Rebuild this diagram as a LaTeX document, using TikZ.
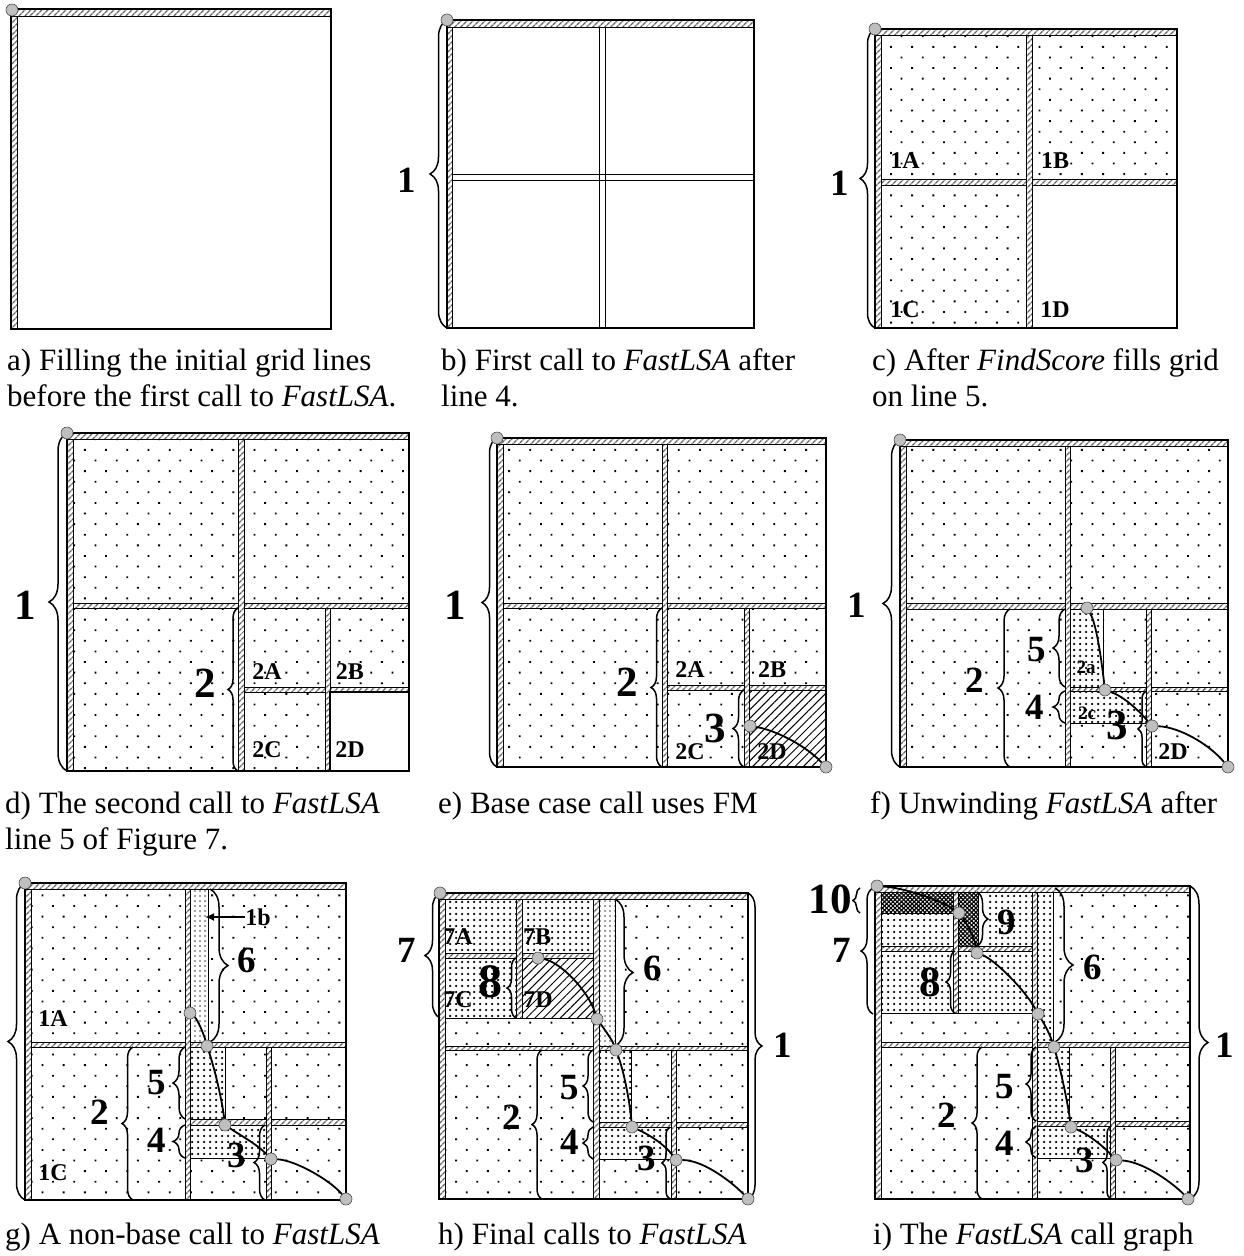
\documentclass[tikz,border=0pt]{standalone}
\usepackage{fontspec}
\setmainfont{Liberation Serif}[BoldFont={Liberation Serif Bold}, ItalicFont={Liberation Serif Italic}]
\usetikzlibrary{patterns.meta,decorations.pathreplacing,arrows.meta}

\begin{document}
\begin{tikzpicture}[x=1pt, y=-1pt,
  box/.style={line width=1.7pt},
  sep/.style={line width=0.8pt},
  gl/.style={preaction={fill=white}, pattern={Lines[angle=45,distance=4pt,line width=1.6pt]},
             pattern color=black!60, draw=black, line width=0.7pt},
  sp/.style={pattern={Dots[distance=15pt,angle=45,radius=1.3pt]}},
  dn/.style={pattern={Dots[distance=6pt,radius=1.25pt]}},
  dg/.style={pattern={Dots[distance=5pt,radius=1.2pt]}, pattern color=black!50},
  hx/.style={pattern={Lines[angle=45,distance=6pt,line width=1pt]}},
  cx/.style={pattern={Hatch[angle=45,distance=3pt,line width=1.2pt]}},
  brc/.style={decorate, decoration={brace, amplitude=#1}, line width=1.5pt},
  brc/.default=10pt,
  pt/.style={circle, fill=gray!50, draw=gray!60!black, line width=0.6pt, inner sep=0pt, minimum size=12pt},
  cur/.style={line width=1.8pt},
  num/.style={font=\bfseries\fontsize{37}{37}\selectfont, inner sep=0pt},
  big/.style={font=\bfseries\fontsize{43}{43}\selectfont, inner sep=0pt},
  lab/.style={font=\bfseries\fontsize{24}{24}\selectfont, inner sep=0pt},
  sml/.style={font=\bfseries\fontsize{19}{19}\selectfont, inner sep=0pt},
  captxt/.style={font=\fontsize{31}{36}\selectfont, align=left, anchor=base west, inner sep=0pt}]
\useasboundingbox (0,0) rectangle (1243,1256);

% a) initial grid lines
\draw[gl] (11,9) rectangle (331,16);
\draw[gl] (11,16) rectangle (17,329);
\draw[box] (11,9) rectangle (331,329);
\node[pt] (a0) at (12,10) {};
\node[captxt] (capa) at (7,406) {a) Filling the initial grid lines\\before the first call to \textit{FastLSA}.};

% b) first call
\draw[gl] (447,20) rectangle (754,27);
\draw[gl] (447,27) rectangle (452,328);
\draw[sep] (599,27) -- (599,328) (605,27) -- (605,328) (452,174) -- (754,174) (452,180) -- (754,180);
\draw[box] (447,20) rectangle (754,328);
\draw[brc=17pt] (447,328) -- (447,20);
\node[num] (b1) at (407,180) {1};
\node[pt] (b0) at (447,20) {};
\node[captxt] (capb) at (441,406) {b) First call to \textit{FastLSA} after\\line 4.};

% c) FindScore fills grid
\path[sp] (881,35) rectangle (1026,179) (1032,35) rectangle (1177,179) (881,185) rectangle (1026,328);
\draw[gl] (875,29) rectangle (1177,35);
\draw[gl] (875,35) rectangle (881,328);
\draw[gl] (881,179) rectangle (1177,185);
\draw[gl] (1026,35) rectangle (1032,328);
\draw[box] (875,29) rectangle (1177,328);
\node[lab] (c1a) at (905,161) {1A};
\node[lab] (c1b) at (1055,161) {1B};
\node[lab] (c1c) at (905,310) {1C};
\node[lab] (c1d) at (1055,310) {1D};
\draw[brc=15pt] (875,328) -- (875,29);
\node[num] (c1) at (840,183) {1};
\node[pt] (c0) at (875,29) {};
\node[captxt] (capc) at (872,406) {c) After \textit{FindScore} fills grid\\on line 5.};

% d) second call
\path[sp] (73,439) rectangle (238,603) (244,439) rectangle (409,603) (73,608) rectangle (238,771)
  (244,608) rectangle (325,687) (330,608) rectangle (409,687) (244,692) rectangle (325,771);
\draw[gl] (67,433) rectangle (409,439);
\draw[gl] (67,439) rectangle (73,771);
\draw[gl] (73,603) rectangle (409,608);
\draw[gl] (238,439) rectangle (244,771);
\draw[gl] (244,687) rectangle (409,692);
\draw[gl] (325,608) rectangle (330,771);
\draw[box] (67,433) rectangle (409,771);
\draw[box] (330,692) rectangle (409,771);
\node[lab] (d2a) at (267,672) {2A};
\node[lab] (d2b) at (350,672) {2B};
\node[lab] (d2c) at (267,750) {2C};
\node[lab] (d2d) at (350,750) {2D};
\draw[brc=18pt] (67,771) -- (67,433);
\node[big] (d1) at (25,605) {1};
\draw[brc=10pt] (238,771) -- (238,608);
\node[big] (d2) at (205,683) {2};
\node[pt] (d0) at (67,433) {};
\node[captxt] (capd) at (5,849) {d) The second call to \textit{FastLSA}\\line 5 of Figure 7.};

% e) base case
\path[sp] (503,444) rectangle (662,603) (667,444) rectangle (826,603) (503,608) rectangle (662,767)
  (667,608) rectangle (744,685) (749,608) rectangle (826,685) (667,690) rectangle (744,767);
\path[hx] (749,690) rectangle (826,767);
\draw[gl] (497,438) rectangle (826,444);
\draw[gl] (497,444) rectangle (503,767);
\draw[gl] (503,603) rectangle (826,608);
\draw[gl] (662,444) rectangle (667,767);
\draw[gl] (667,685) rectangle (826,690);
\draw[gl] (744,608) rectangle (749,767);
\draw[box] (497,438) rectangle (826,767);
\node[lab] (e2a) at (690,670) {2A};
\node[lab] (e2b) at (772,670) {2B};
\node[lab] (e2c) at (690,752) {2C};
\node[lab] (e2d) at (772,752) {2D};
\draw[brc=15pt] (497,767) -- (497,438);
\node[big] (e1) at (455,605) {1};
\draw[brc=11pt] (662,767) -- (662,608);
\node[big] (e2) at (627,682) {2};
\draw[brc=11pt] (744,767) -- (744,690);
\node[big] (e3) at (715,728) {3};
\node[pt] (e0) at (497,438) {};
\node[pt] (ep1) at (750,726) {};
\node[pt] (ep2) at (826,767) {};
\draw[cur] (ep1) .. controls (775,730) and (805,745) .. (ep2);
\node[captxt] (cape) at (438,813) {e) Base case call uses FM};

% f) unwinding
\path[sp] (906,446) rectangle (1065,603) (1070,446) rectangle (1228,603) (906,609) rectangle (1065,767)
  (1103,609) rectangle (1146,687) (1151,609) rectangle (1228,687) (1070,723) rectangle (1146,767)
  (1151,691) rectangle (1228,767);
\path[dn] (1070,609) rectangle (1103,687) (1070,691) rectangle (1146,723);
\draw[gl] (900,440) rectangle (1228,446);
\draw[gl] (900,446) rectangle (906,767);
\draw[gl] (906,603) rectangle (1228,609);
\draw[gl] (1065,446) rectangle (1070,767);
\draw[gl] (1070,687) rectangle (1228,691);
\draw[gl] (1146,609) rectangle (1151,767);
\draw[sep] (1103,609) -- (1103,687) (1070,723) -- (1146,723);
\draw[box] (900,440) rectangle (1228,767);
\node[sml] (f2a) at (1086,667) {2a};
\node[sml] (f2c) at (1087,713) {2c};
\node[lab] (f2d) at (1173,752) {2D};
\draw[brc=17pt] (900,767) -- (900,440);
\node[num] (f1) at (857,605) {1};
\draw[brc=12pt] (1010,767) -- (1010,609);
\node[num] (f2) at (975,680) {2};
\draw[brc=12pt] (1065,687) -- (1065,609);
\node[num] (f5) at (1037,650) {5};
\draw[brc=12pt] (1065,723) -- (1065,691);
\node[num] (f4) at (1035,707) {4};
\draw[brc=8pt] (1146,767) -- (1146,691);
\node[big] (f3) at (1117,725) {3};
\node[pt] (f0) at (900,440) {};
\node[pt] (fp1) at (1087,608) {};
\node[pt] (fp2) at (1105,690) {};
\node[pt] (fp3) at (1152,726) {};
\node[pt] (fp4) at (1228,767) {};
\draw[cur] (fp1) .. controls (1097,625) and (1102,665) .. (fp2);
\draw[cur] (fp2) .. controls (1125,697) and (1140,712) .. (fp3);
\draw[cur] (fp3) .. controls (1180,727) and (1210,745) .. (fp4);
\node[captxt] (capf) at (870,813) {f) Unwinding \textit{FastLSA} after};

% g) non-base call
\path[sp] (31,889) rectangle (185,1042) (208,889) rectangle (346,1042) (31,1047) rectangle (185,1200)
  (225,1047) rectangle (266,1119) (271,1047) rectangle (346,1119) (271,1125) rectangle (346,1200)
  (190,1158) rectangle (266,1200);
\path[dn] (190,1047) rectangle (225,1119) (190,1125) rectangle (266,1158);
\path[dg] (190,889) rectangle (208,1042);
\draw[gl] (25,883) rectangle (346,889);
\draw[gl] (25,889) rectangle (31,1200);
\draw[gl] (31,1042) rectangle (346,1047);
\draw[gl] (185,889) rectangle (190,1200);
\draw[gl] (190,1119) rectangle (346,1125);
\draw[gl] (266,1047) rectangle (271,1200);
\draw[sep] (208,889) -- (208,1042) (225,1047) -- (225,1119) (190,1158) -- (266,1158);
\draw[box] (25,883) rectangle (346,1200);
\node[lab] (g1a) at (53,1019) {1A};
\node[lab] (g1c) at (53,1173) {1C};
\node[lab] (g1b) at (258,917) {1b};
\coordinate (g1bt) at (205,917);
\draw[-{Latex[length=9pt,width=8pt]}, line width=2.2pt] (g1b.west) -- (g1bt);
\draw[brc=17pt] (25,1200) -- (25,883);
\draw[brc=18pt] (210,889) -- (210,1042);
\node[num] (g6) at (247,960) {6};
\draw[brc=11pt] (133,1200) -- (133,1047);
\node[num] (g2) at (100,1112) {2};
\draw[brc=12pt] (185,1119) -- (185,1047);
\node[num] (g5) at (157,1083) {5};
\draw[brc=12pt] (185,1158) -- (185,1125);
\node[num] (g4) at (157,1140) {4};
\draw[brc=11pt] (265,1200) -- (265,1125);
\node[num] (g3) at (237,1155) {3};
\node[pt] (g0) at (25,883) {};
\node[pt] (gp1) at (190,1013) {};
\node[pt] (gp2) at (207,1046) {};
\node[pt] (gp3) at (225,1125) {};
\node[pt] (gp4) at (271,1159) {};
\node[pt] (gp5) at (346,1199) {};
\draw[cur] (gp1) .. controls (198,1020) and (204,1035) .. (gp2);
\draw[cur] (gp2) .. controls (215,1070) and (222,1100) .. (gp3);
\draw[cur] (gp3) .. controls (240,1135) and (258,1145) .. (gp4);
\draw[cur] (gp4) .. controls (295,1160) and (330,1180) .. (gp5);
\node[captxt] (capg) at (5,1244) {g) A non-base call to \textit{FastLSA}};

% h) final calls
\path[dn] (445,899) rectangle (516,953) (522,899) rectangle (593,953) (445,958) rectangle (516,1018)
  (599,1050) rectangle (631,1122) (599,1127) rectangle (671,1159);
\path[hx] (522,958) rectangle (593,1018);
\path[sp] (445,1018) rectangle (593,1046) (615,899) rectangle (748,1046) (445,1050) rectangle (593,1199)
  (631,1050) rectangle (671,1122) (676,1050) rectangle (748,1122) (676,1127) rectangle (748,1199)
  (599,1159) rectangle (671,1199);
\path[dg] (599,899) rectangle (615,1046);
\draw[gl] (439,893) rectangle (748,899);
\draw[gl] (439,899) rectangle (445,1199);
\draw[gl] (445,1046) rectangle (748,1050);
\draw[gl] (445,953) rectangle (593,958);
\draw[gl] (516,899) rectangle (522,1018);
\draw[gl] (593,899) rectangle (599,1199);
\draw[gl] (599,1122) rectangle (748,1127);
\draw[gl] (671,1050) rectangle (676,1199);
\draw[sep] (445,1018) -- (593,1018) (615,899) -- (615,1046) (631,1050) -- (631,1122) (599,1159) -- (671,1159);
\draw[box] (439,893) rectangle (748,1199);
\node[lab] (h7a) at (458,937) {7A};
\node[lab] (h7b) at (537,937) {7B};
\node[lab] (h7c) at (458,1000) {7C};
\node[lab] (h7d) at (538,1000) {7D};
\draw[brc=15pt] (440,1018) -- (440,893);
\node[num] (h7) at (407,950) {7};
\draw[brc=9pt] (516,1018) -- (516,958);
\node[font=\bfseries\fontsize{48}{48}\selectfont, inner sep=0pt] (h8) at (490,982) {8};
\draw[brc=18pt] (615,899) -- (615,1046);
\node[num] (h6) at (653,968) {6};
\draw[brc=14pt] (748,893) -- (748,1199);
\node[num] (h1) at (783,1045) {1};
\draw[brc=10pt] (542,1199) -- (542,1050);
\node[num] (h2) at (512,1117) {2};
\draw[brc=10pt] (593,1122) -- (593,1050);
\node[num] (h5) at (570,1088) {5};
\draw[brc=10pt] (593,1159) -- (593,1127);
\node[num] (h4) at (570,1142) {4};
\draw[brc=8pt] (670,1199) -- (670,1127);
\node[num] (h3) at (647,1158) {3};
\node[pt] (h0) at (440,893) {};
\node[pt] (hp1) at (538,958) {};
\node[pt] (hp2) at (597,1019) {};
\node[pt] (hp3) at (616,1050) {};
\node[pt] (hp4) at (632,1127) {};
\node[pt] (hp5) at (676,1160) {};
\node[pt] (hp6) at (748,1199) {};
\draw[cur] (hp1) .. controls (560,962) and (588,990) .. (hp2);
\draw[cur] (hp2) .. controls (605,1030) and (612,1040) .. (hp3);
\draw[cur] (hp3) .. controls (625,1075) and (630,1105) .. (hp4);
\draw[cur] (hp4) .. controls (650,1135) and (665,1145) .. (hp5);
\draw[cur] (hp5) .. controls (705,1160) and (735,1185) .. (hp6);
\node[captxt] (caph) at (438,1244) {h) Final calls to \textit{FastLSA}};

% i) call graph
\path[cx] (881,892) rectangle (953,913) (958,892) rectangle (978,946);
\path[dn] (881,913) rectangle (953,946) (988,892) rectangle (1032,946) (881,951) rectangle (953,1013)
  (958,951) rectangle (1032,1013) (1037,892) rectangle (1053,1042) (1037,1047) rectangle (1069,1121)
  (1037,1126) rectangle (1110,1158);
\path[sp] (881,1013) rectangle (1032,1042) (1053,892) rectangle (1190,1042) (881,1047) rectangle (1032,1199)
  (1069,1047) rectangle (1110,1121) (1115,1047) rectangle (1190,1121) (1115,1126) rectangle (1190,1199)
  (1037,1158) rectangle (1110,1199);
\draw[gl] (875,886) rectangle (1190,892);
\draw[gl] (875,892) rectangle (881,1199);
\draw[gl] (881,1042) rectangle (1190,1047);
\draw[gl] (881,946) rectangle (1032,951);
\draw[gl] (953,892) rectangle (958,1013);
\draw[gl] (1032,892) rectangle (1037,1199);
\draw[gl] (1037,1121) rectangle (1190,1126);
\draw[gl] (1110,1047) rectangle (1115,1199);
\draw[sep] (881,1013) -- (1032,1013) (881,913) -- (953,913) (978,892) -- (978,946) (1053,892) -- (1053,1042)
  (1069,1047) -- (1069,1121) (1037,1158) -- (1110,1158);
\draw[box] (875,886) rectangle (1190,1199);
\draw[brc=7pt] (860,913) -- (860,888);
\node[big] (i10) at (830,899) {10};
\draw[brc=12pt] (873,1014) -- (873,888);
\node[num] (i7) at (842,950) {7};
\draw[brc=11pt] (977,892) -- (977,946);
\node[num] (i9) at (1007,922) {9};
\draw[brc=9pt] (955,1013) -- (955,951);
\node[big] (i8) at (930,982) {8};
\draw[brc=18pt] (1055,888) -- (1055,1042);
\node[num] (i6) at (1093,967) {6};
\draw[brc=18pt] (1190,886) -- (1190,1199);
\node[num] (i1) at (1225,1045) {1};
\draw[brc=10pt] (982,1199) -- (982,1047);
\node[num] (i2) at (947,1115) {2};
\draw[brc=10pt] (1036,1121) -- (1036,1047);
\node[num] (i5) at (1005,1087) {5};
\draw[brc=10pt] (1036,1158) -- (1036,1126);
\node[num] (i4) at (1005,1143) {4};
\draw[brc=8pt] (1111,1199) -- (1111,1126);
\node[num] (i3) at (1085,1160) {3};
\node[pt] (ip1) at (877,886) {};
\node[pt] (ip2) at (959,913) {};
\node[pt] (ip3) at (977,953) {};
\node[pt] (ip4) at (1038,1014) {};
\node[pt] (ip5) at (1054,1047) {};
\node[pt] (ip6) at (1071,1127) {};
\node[pt] (ip7) at (1116,1160) {};
\node[pt] (ip8) at (1188,1199) {};
\draw[cur] (ip1) .. controls (905,888) and (940,900) .. (ip2);
\draw[cur] (ip2) .. controls (968,925) and (975,940) .. (ip3);
\draw[cur] (ip3) .. controls (995,960) and (1025,990) .. (ip4);
\draw[cur] (ip4) .. controls (1045,1025) and (1050,1035) .. (ip5);
\draw[cur] (ip5) .. controls (1062,1075) and (1068,1105) .. (ip6);
\draw[cur] (ip6) .. controls (1090,1135) and (1105,1148) .. (ip7);
\draw[cur] (ip7) .. controls (1145,1162) and (1175,1185) .. (ip8);
\node[captxt] (capi) at (873,1244) {i) The \textit{FastLSA} call graph};
\end{tikzpicture}
\end{document}
